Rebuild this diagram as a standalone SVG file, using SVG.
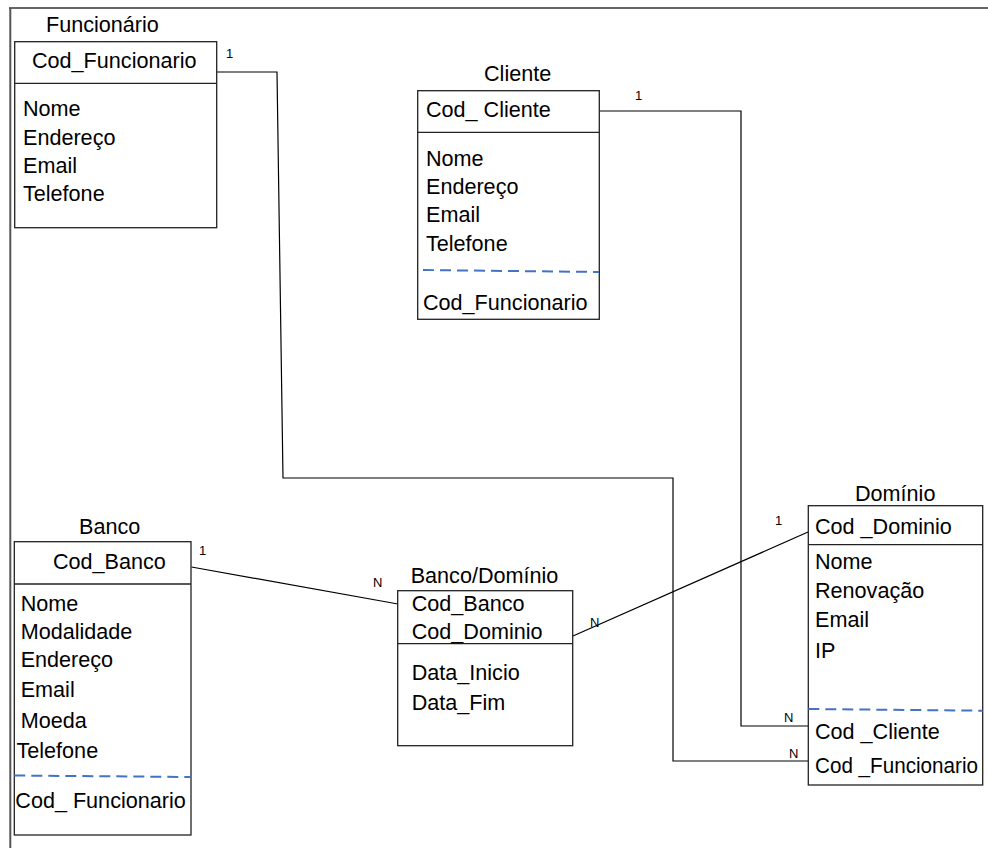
<svg xmlns="http://www.w3.org/2000/svg" width="988" height="848" viewBox="0 0 988 848">
<style>
.box{fill:#fff;stroke:#222;stroke-width:1.3}
.sep{stroke:#222;stroke-width:1.3}
.dash{stroke:#4472C4;stroke-width:2;stroke-dasharray:11 6;fill:none}
.t{font-family:"Liberation Sans",Arial,sans-serif;font-size:21.6px;fill:#000}
.lbl{font-family:"Liberation Sans",Arial,sans-serif;font-size:13px;fill:#000}
.conn{fill:none;stroke:#000;stroke-width:1.2}
</style>
<rect width="988" height="848" fill="#fff"/>
<g id="frame">
<line x1="9" y1="8" x2="988" y2="8" stroke="#333" stroke-width="1.5"/>
<line x1="10.3" y1="8" x2="10.3" y2="848" stroke="#555" stroke-width="2"/>
</g>
<g id="connectors">
<polyline class="conn" points="217,72 277,72 283,478 673,478 673,761 808,761"/>
<polyline class="conn" points="599,111 741,111 741,726 808,726"/>
<line class="conn" x1="191.5" y1="567" x2="398" y2="604"/>
<line class="conn" x1="573" y1="636" x2="808" y2="532"/>
<text class="lbl" x="226" y="58">1</text>
<text class="lbl" x="635" y="100">1</text>
<text class="lbl" x="199" y="555">1</text>
<text class="lbl" x="373" y="587">N</text>
<text class="lbl" x="590" y="627">N</text>
<text class="lbl" x="775" y="525">1</text>
<text class="lbl" x="784" y="722">N</text>
<text class="lbl" x="789" y="758">N</text>
</g>
<g id="funcionario">
<text class="t" x="46" y="32">Funcionário</text>
<rect class="box" x="14.7" y="41.7" width="202" height="186"/>
<line class="sep" x1="14.7" y1="83.3" x2="216.7" y2="83.3"/>
<text class="t" x="32" y="68">Cod_Funcionario</text>
<text class="t" x="23" y="116">Nome</text>
<text class="t" x="23" y="145">Endereço</text>
<text class="t" x="23" y="173">Email</text>
<text class="t" x="23" y="201">Telefone</text>
</g>
<g id="cliente">
<text class="t" x="484" y="81">Cliente</text>
<rect class="box" x="417.7" y="90.7" width="181.6" height="228.6"/>
<line class="sep" x1="417.7" y1="132.3" x2="599.3" y2="132.3"/>
<text class="t" x="426" y="117">Cod_ Cliente</text>
<text class="t" x="426" y="166">Nome</text>
<text class="t" x="426" y="194">Endereço</text>
<text class="t" x="426" y="222">Email</text>
<text class="t" x="426" y="251">Telefone</text>
<line class="dash" x1="423" y1="270" x2="599" y2="272"/>
<text class="t" x="423" y="310">Cod_Funcionario</text>
</g>
<g id="banco">
<text class="t" x="79" y="534">Banco</text>
<rect class="box" x="14.3" y="541.7" width="176.7" height="293.3"/>
<line class="sep" x1="14.3" y1="584" x2="191" y2="584"/>
<text class="t" x="53" y="569">Cod_Banco</text>
<text class="t" x="20.7" y="611">Nome</text>
<text class="t" x="20.7" y="639">Modalidade</text>
<text class="t" x="20.7" y="667">Endereço</text>
<text class="t" x="20.7" y="697">Email</text>
<text class="t" x="20.7" y="728">Moeda</text>
<text class="t" x="16.5" y="758">Telefone</text>
<line class="dash" x1="14.3" y1="775.5" x2="191" y2="777"/>
<text class="t" x="15.3" y="808">Cod_ Funcionario</text>
</g>
<g id="banco-dominio">
<text class="t" x="410.7" y="583">Banco/Domínio</text>
<rect class="box" x="397.7" y="590.7" width="175" height="155"/>
<line class="sep" x1="397.7" y1="643.7" x2="572.7" y2="643.7"/>
<text class="t" x="411.7" y="611">Cod_Banco</text>
<text class="t" x="411.7" y="639">Cod_Dominio</text>
<text class="t" x="411.7" y="680">Data_Inicio</text>
<text class="t" x="411.7" y="710">Data_Fim</text>
</g>
<g id="dominio">
<text class="t" x="855" y="501">Domínio</text>
<rect class="box" x="808.3" y="505.7" width="174.4" height="279.3"/>
<line class="sep" x1="808.3" y1="544.7" x2="982.7" y2="544.7"/>
<text class="t" x="815" y="534">Cod _Dominio</text>
<text class="t" x="815" y="569">Nome</text>
<text class="t" x="815" y="598">Renovação</text>
<text class="t" x="815" y="627">Email</text>
<text class="t" x="815" y="658">IP</text>
<line class="dash" x1="808.3" y1="709" x2="982.7" y2="710.7"/>
<text class="t" x="815" y="739">Cod _Cliente</text>
<text class="t" x="815" y="773" textLength="163" lengthAdjust="spacingAndGlyphs">Cod _Funcionario</text>
</g>
</svg>
